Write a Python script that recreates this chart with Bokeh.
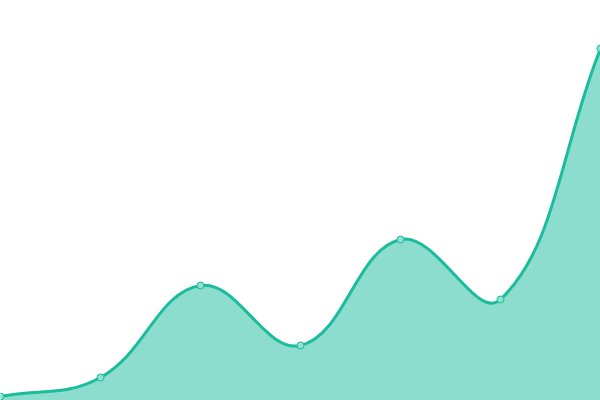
import numpy as np
from bokeh.plotting import figure
from bokeh.models import Range1d
from bokeh.embed import file_html
from bokeh.resources import INLINE

# data
labels = ["A", "B", "C", "D", "E", "F", "G"]
values = [4, 23, 115, 55, 161, 101, 352]

W, H = 600, 400
x = np.arange(len(values), dtype=float)
y = np.array(values, dtype=float)
x0, x1 = 0.0, float(len(values) - 1)
y0, y1 = 0.0, 400.0
sx = W / (x1 - x0)
sy = H / (y1 - y0)

# Chart.js-like spline control points (tension 0.4), computed in pixel space
t = 0.4
px, py = x * sx, y * sy
n = len(px)
cp_prev = np.zeros((n, 2))
cp_next = np.zeros((n, 2))
for i in range(n):
    pi = max(i - 1, 0)
    ni = min(i + 1, n - 1)
    d01 = np.hypot(px[i] - px[pi], py[i] - py[pi])
    d12 = np.hypot(px[ni] - px[i], py[ni] - py[i])
    tot = d01 + d12
    s01 = d01 / tot if tot else 0
    s12 = d12 / tot if tot else 0
    fa, fb = t * s01, t * s12
    dx, dy = px[ni] - px[pi], py[ni] - py[pi]
    cp_prev[i] = (px[i] - fa * dx, py[i] - fa * dy)
    cp_next[i] = (px[i] + fb * dx, py[i] + fb * dy)
cp_prev[:, 1] = np.clip(cp_prev[:, 1], 0, H)
cp_next[:, 1] = np.clip(cp_next[:, 1], 0, H)

bx0 = px[:-1] / sx; by0 = py[:-1] / sy
bx1 = px[1:] / sx; by1 = py[1:] / sy
cx0 = cp_next[:-1, 0] / sx; cy0 = cp_next[:-1, 1] / sy
cx1 = cp_prev[1:, 0] / sx; cy1 = cp_prev[1:, 1] / sy

# sampled curve for the area fill
ts = np.linspace(0, 1, 40)[:, None]
cxs = ((1 - ts) ** 3 * bx0 + 3 * (1 - ts) ** 2 * ts * cx0 + 3 * (1 - ts) * ts ** 2 * cx1 + ts ** 3 * bx1).T.ravel()
cys = ((1 - ts) ** 3 * by0 + 3 * (1 - ts) ** 2 * ts * cy0 + 3 * (1 - ts) * ts ** 2 * cy1 + ts ** 3 * by1).T.ravel()

p = figure(width=W, height=H, output_backend="svg", toolbar_location=None,
           x_range=Range1d(x0, x1), y_range=Range1d(y0, y1),
           min_border=0, min_border_left=0, min_border_right=0,
           min_border_top=0, min_border_bottom=0)
p.axis.visible = False
p.grid.visible = False
p.outline_line_color = None
p.background_fill_color = "white"
p.border_fill_color = "white"

p.patch(np.concatenate([cxs, [x1, x0]]), np.concatenate([cys, [y0, y0]]),
        fill_color="#1abc9c", fill_alpha=0.5, line_color=None)
p.bezier(x0=bx0, y0=by0, x1=bx1, y1=by1, cx0=cx0, cy0=cy0, cx1=cx1, cy1=cy1,
         line_color="#1abc9c", line_width=3)
p.scatter(x, y, size=7, fill_color="#8ee0cf", line_color="#1abc9c", line_width=1)

p.styles = {"position": "fixed", "left": "0px", "top": "0px"}

open("out.html", "w").write(file_html(p, INLINE))
